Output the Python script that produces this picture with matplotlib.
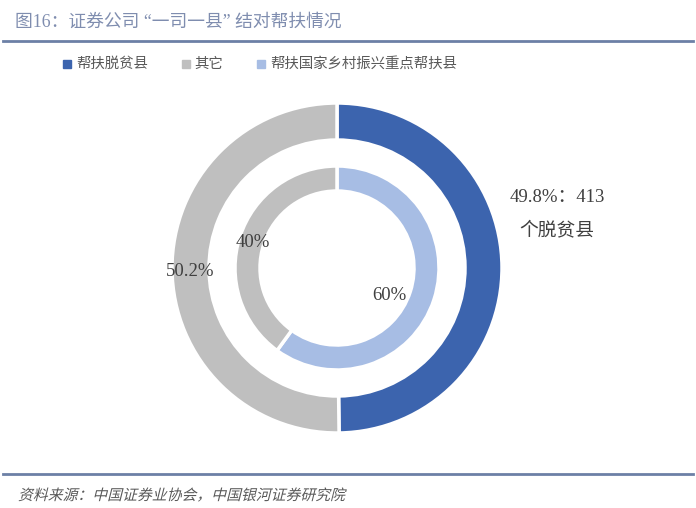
import matplotlib.pyplot as plt
from matplotlib.lines import Line2D
from matplotlib.textpath import TextPath
from matplotlib.patches import PathPatch
from matplotlib.font_manager import FontProperties
from matplotlib.transforms import Affine2D, IdentityTransform

plt.rcParams['font.family'] = ['Liberation Serif', 'Noto Sans CJK SC', 'DejaVu Sans']

# data
outer_labels = ['帮扶脱贫县', '其它']
outer_vals = [49.8, 50.2]
inner_labels = ['帮扶国家乡村振兴重点帮扶县', '其它']
inner_vals = [60, 40]
n_counties = 413

blue = '#3C64AE'
gray = '#BFBFBF'
lblue = '#A7BDE4'
title_col = '#7F8DAF'
line_col = '#6C80A6'
txt = '#404040'

W, H = 696, 508
DPI = 100
fig = plt.figure(figsize=(W / DPI, H / DPI), dpi=DPI)

# pie axes: centre (337, 268) px, radius 165 px
cx, cy, R = 337, 268, 165
ax = fig.add_axes([(cx - R) / W, (H - cy - R) / H, 2 * R / W, 2 * R / H])
ax.axis('off')

wp = dict(edgecolor='white', linewidth=2.5)
ax.pie(outer_vals, radius=1.0, colors=[blue, gray], startangle=90,
       counterclock=False, wedgeprops=dict(width=37 / R, **wp))
ax.pie(inner_vals, radius=102 / R, colors=[lblue, gray], startangle=90,
       counterclock=False, wedgeprops=dict(width=25 / R, **wp))
ax.set_xlim(-1, 1)
ax.set_ylim(-1, 1)

def px(x, y):
    return (x - cx) / R, (cy - y) / R

fs = 13.5
ax.text(*px(557, 197), f'{outer_vals[0]}%：{n_counties}', ha='center', va='center',
        fontsize=fs, color=txt)
ax.text(*px(557, 230), '个脱贫县', ha='center', va='center', fontsize=fs, color=txt)
ax.text(*px(190, 272), f'{outer_vals[1]}%', ha='center', va='center', fontsize=fs, color=txt)
ax.text(*px(253, 242), f'{inner_vals[1]}%', ha='center', va='center', fontsize=fs, color=txt)
ax.text(*px(389, 296), f'{inner_vals[0]}%', ha='center', va='center', fontsize=fs, color=txt)

# title and rules
fig.text(15 / W, 1 - 22 / H, '图16：证券公司 “一司一县” 结对帮扶情况', fontsize=12.8,
         color=title_col, va='center', ha='left')
fig.add_artist(Line2D([3 / W, 693 / W], [1 - 41 / H] * 2, color=line_col, lw=2))
fig.add_artist(Line2D([3 / W, 693 / W], [1 - 474 / H] * 2, color=line_col, lw=2))

# source line, slanted by hand since the CJK font has no italic
src = '资料来源：中国证券业协会，中国银河证券研究院'
tp = TextPath((0, 0), src, size=10.7, prop=FontProperties(family='Noto Sans CJK SC'))
tr = Affine2D().skew_deg(14, 0).scale(DPI / 72).translate(18, H - 500)
fig.add_artist(PathPatch(tp, transform=tr + IdentityTransform(),
                         facecolor='#595959', edgecolor='none'))

# legend
leg_items = [(outer_labels[0], blue, 67, 76), (outer_labels[1], gray, 186, 194),
             (inner_labels[0], lblue, 261, 270)]
for lab, col, sx, tx in leg_items:
    fig.add_artist(Line2D([sx / W], [1 - 64 / H], marker='s', markersize=5.5,
                          color=col, linestyle='none'))
    fig.text(tx / W, 1 - 64 / H, lab, fontsize=10.4, color='#595959', va='center', ha='left')

fig.savefig('out.png', dpi=DPI, facecolor='white')
